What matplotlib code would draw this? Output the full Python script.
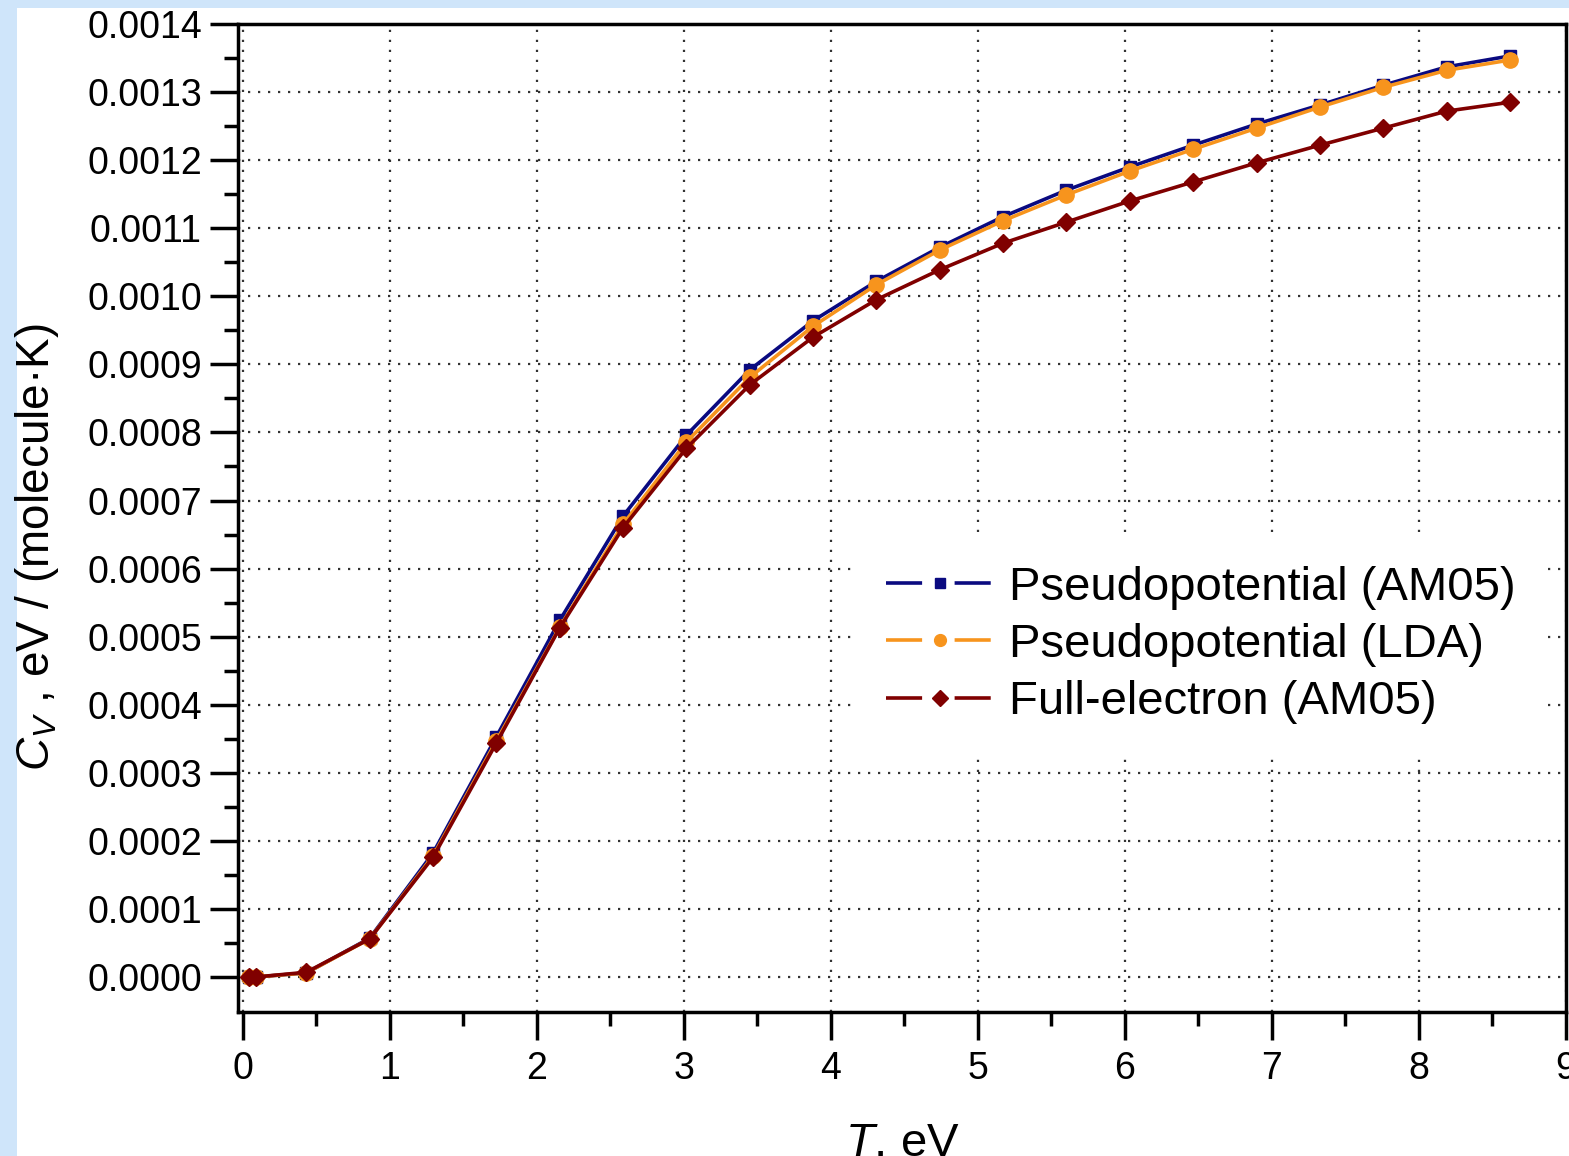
import matplotlib
matplotlib.use("Agg")
import matplotlib.pyplot as plt
import numpy as np
from matplotlib.patches import Rectangle
from matplotlib.lines import Line2D
from matplotlib.legend_handler import HandlerTuple

# ==========================================================
# DATA
# ==========================================================

T_eV = [0.043, 0.086, 0.431, 0.862, 1.293, 1.724, 2.155, 2.585, 3.017, 3.448,
        3.878, 4.309, 4.740, 5.171, 5.602, 6.033, 6.464, 6.895, 7.326, 7.757,
        8.188, 8.617]

cv_pseudo_am05 = [0.0, 0.0, 0.000006, 0.000057, 0.000182, 0.000353, 0.000524,
                  0.000677, 0.000796, 0.000892, 0.000964, 0.001022, 0.001072,
                  0.001117, 0.001156, 0.001190, 0.001222, 0.001253, 0.001281,
                  0.001310, 0.001337, 0.001353]

cv_pseudo_lda = [0.0, 0.0, 0.000006, 0.000056, 0.000178, 0.000347, 0.000514,
                 0.000665, 0.000786, 0.000881, 0.000956, 0.001017, 0.001068,
                 0.001111, 0.001149, 0.001184, 0.001216, 0.001247, 0.001278,
                 0.001307, 0.001332, 0.001347]

cv_full_am05 = [0.0, 0.0, 0.000007, 0.000056, 0.000176, 0.000344, 0.000513,
                0.000660, 0.000777, 0.000870, 0.000940, 0.000995, 0.001039,
                0.001078, 0.001109, 0.001140, 0.001168, 0.001196, 0.001222,
                0.001247, 0.001272, 0.001285]

labels = ["Pseudopotential (AM05)", "Pseudopotential (LDA)", "Full-electron (AM05)"]
colors = ["#0a0a80", "#f7941d", "#800000"]
markers = ["s", "o", "D"]

# ==========================================================
# PLOT
# ==========================================================

plt.rcParams.update({
    "font.family": "Liberation Sans",
    "mathtext.fontset": "custom",
    "mathtext.rm": "Liberation Sans",
    "mathtext.it": "Liberation Sans:italic",
})

fig = plt.figure(figsize=(15.69, 11.56), dpi=100, facecolor="#cfe5fa")
# white page area, light blue margin at left and top
fig.patches.append(Rectangle((17 / 1569, 0), 1, 1 - 8 / 1156,
                             transform=fig.transFigure, facecolor="white",
                             edgecolor="none", zorder=-10))

ax = fig.add_axes([238 / 1569, 1 - 1012 / 1156, (1566 - 238) / 1569, (1012 - 24) / 1156])
ax.set_zorder(5)
ax.set_facecolor("white")

series = [cv_pseudo_am05, cv_pseudo_lda, cv_full_am05]
sizes = [9, 11, 9]
for i, ys in enumerate(series):
    ax.plot(T_eV, ys, color=colors[i], lw=2.6, marker=markers[i], ms=sizes[i],
            zorder=3 + i)

# ==========================================================
# FORMAT
# ==========================================================

ax.set_xlim(-0.034, 9)
ax.set_ylim(-0.0000514, 0.0014)

ax.set_xticks(np.arange(0, 10, 1))
ax.set_xticks(np.arange(0.5, 9, 1), minor=True)
ax.set_yticks(np.arange(0, 0.00141, 0.0001))
ax.set_yticks(np.arange(0.00005, 0.0014, 0.0001), minor=True)
ax.yaxis.set_major_formatter(matplotlib.ticker.FormatStrFormatter("%.4f"))

ax.tick_params(which="major", direction="out", length=20, width=2.5,
               labelsize=27, pad=6)
ax.tick_params(axis="x", which="major", pad=8)
ax.tick_params(which="minor", direction="out", length=10, width=2.5)
for s in ax.spines.values():
    s.set_linewidth(2.5)

ax.grid(which="major", linestyle=(0, (1, 3.5)), linewidth=1.6, color="#333333")
ax.set_axisbelow(True)

ax.set_xlabel("$T$, eV", fontsize=34, labelpad=25)
ax.set_ylabel("$C_V$ , eV / (molecule·K)", fontsize=33)
ax.yaxis.set_label_coords(-0.133, 0.47)

# legend handles: line with a gap around the marker
legend_sizes = [7, 8.5, 8]
handles = []
for i in range(3):
    ln = Line2D([], [], color=colors[i], lw=2.6, linestyle=(0, (10, 9)))
    mk = Line2D([], [], color=colors[i], lw=0, marker=markers[i],
                ms=legend_sizes[i])
    handles.append((ln, mk))

leg = ax.legend(handles, labels, handler_map={tuple: HandlerTuple(ndivide=1)},
                loc="upper left", bbox_to_anchor=(0.4665, 0.4805),
                frameon=True, facecolor="white", edgecolor="none", framealpha=1,
                fancybox=False, borderpad=0.6,
                fontsize=34, handlelength=2.3, handletextpad=0.3, labelspacing=0.28,
                borderaxespad=0, numpoints=1)

plt.savefig("out.png", dpi=100, facecolor=fig.get_facecolor())
